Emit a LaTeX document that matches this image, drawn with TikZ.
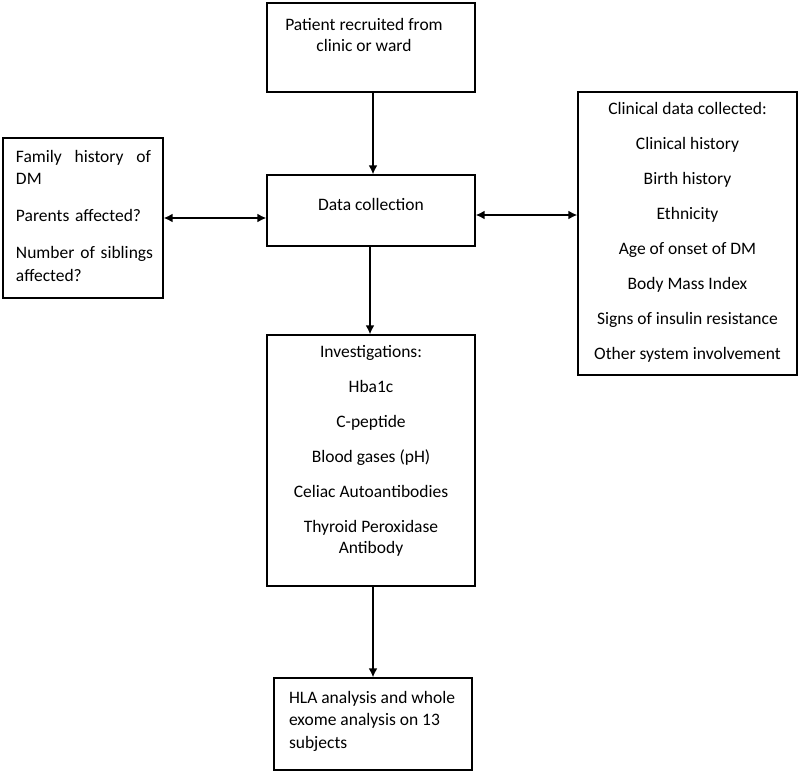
\documentclass[tikz,border=0pt]{standalone}
\usepackage{fontspec}
\setmainfont{Carlito}
\usetikzlibrary{arrows.meta,positioning}

\begin{document}
\begin{tikzpicture}[x=1bp,y=-1bp,>={Latex[length=9bp,width=9bp]},line width=1.4bp]
  \tikzstyle{box}=[draw=black,rectangle,inner sep=0pt,line width=1.4bp]
  \tikzstyle{conn}=[draw=black,line width=1.6bp]
  \tikzstyle{txt}=[inner sep=0pt,align=center,font=\fontsize{17.5bp}{21bp}\selectfont]

  \useasboundingbox (0,0) rectangle (800,773);

  % boxes
  \node[box,minimum width=208bp,minimum height=89bp]  (patient)  at (371,47.5)    {};
  \node[box,minimum width=208bp,minimum height=71bp]  (data)     at (371,210.5)   {};
  \node[box,minimum width=160bp,minimum height=160bp] (family)   at (83,218)      {};
  \node[box,minimum width=219bp,minimum height=283bp] (clinical) at (687.5,233.5) {};
  \node[box,minimum width=208bp,minimum height=251bp] (invest)   at (371,460.5)   {};
  \node[box,minimum width=198bp,minimum height=92bp]  (hla)      at (373,724)     {};

  % texts
  \node[txt,below=15bp of patient.north,xshift=-7bp] (patienttxt)
    {Patient recruited from\\clinic or ward};
  \node[txt,below=23bp of data.north] (datatxt) {Data collection};
  \node[txt,text width=135bp,align=left,below right=12bp and 13bp of family.north west,
        font=\fontsize{17.5bp}{22.5bp}\selectfont] (familytxt)
    {Family\hfill history\hfill of\\DM\\[14.5bp]Parents affected?\\[14.5bp]\mbox{Number of siblings}\\affected?};
  \node[txt,below=10bp of clinical.north] (clinicaltxt)
    {Clinical data collected:\\[14bp]Clinical history\\[14bp]Birth history\\[14bp]Ethnicity\\[14bp]%
     Age of onset of DM\\[14bp]Body Mass Index\\[14bp]Signs of insulin resistance\\[14bp]Other system involvement};
  \node[txt,below=10.5bp of invest.north] (investtxt)
    {Investigations:\\[14bp]Hba1c\\[14bp]C-peptide\\[14bp]Blood gases (pH)\\[14bp]%
     Celiac Autoantibodies\\[14bp]Thyroid Peroxidase\\Antibody};
  \node[txt,align=left,below right=13bp and 15bp of hla.north west,
        font=\fontsize{17.5bp}{22.5bp}\selectfont] (hlatxt)
    {HLA analysis and whole\\exome analysis on 13\\subjects};

  % connectors
  \draw[conn,->]  ([xshift=2bp]patient.south) -- ([xshift=2bp]data.north);
  \draw[conn,->]  ([xshift=-1bp]data.south) -- ([xshift=-1bp]invest.north);
  \draw[conn,->]  (hla.north |- invest.south) -- (hla.north);
  \draw[conn,<->] (family.east) -- (family.east -| data.west);
  \draw[conn,<->] ([yshift=-4.5bp]data.east) -- ([yshift=-4.5bp]data.east -| clinical.west);
\end{tikzpicture}
\end{document}
